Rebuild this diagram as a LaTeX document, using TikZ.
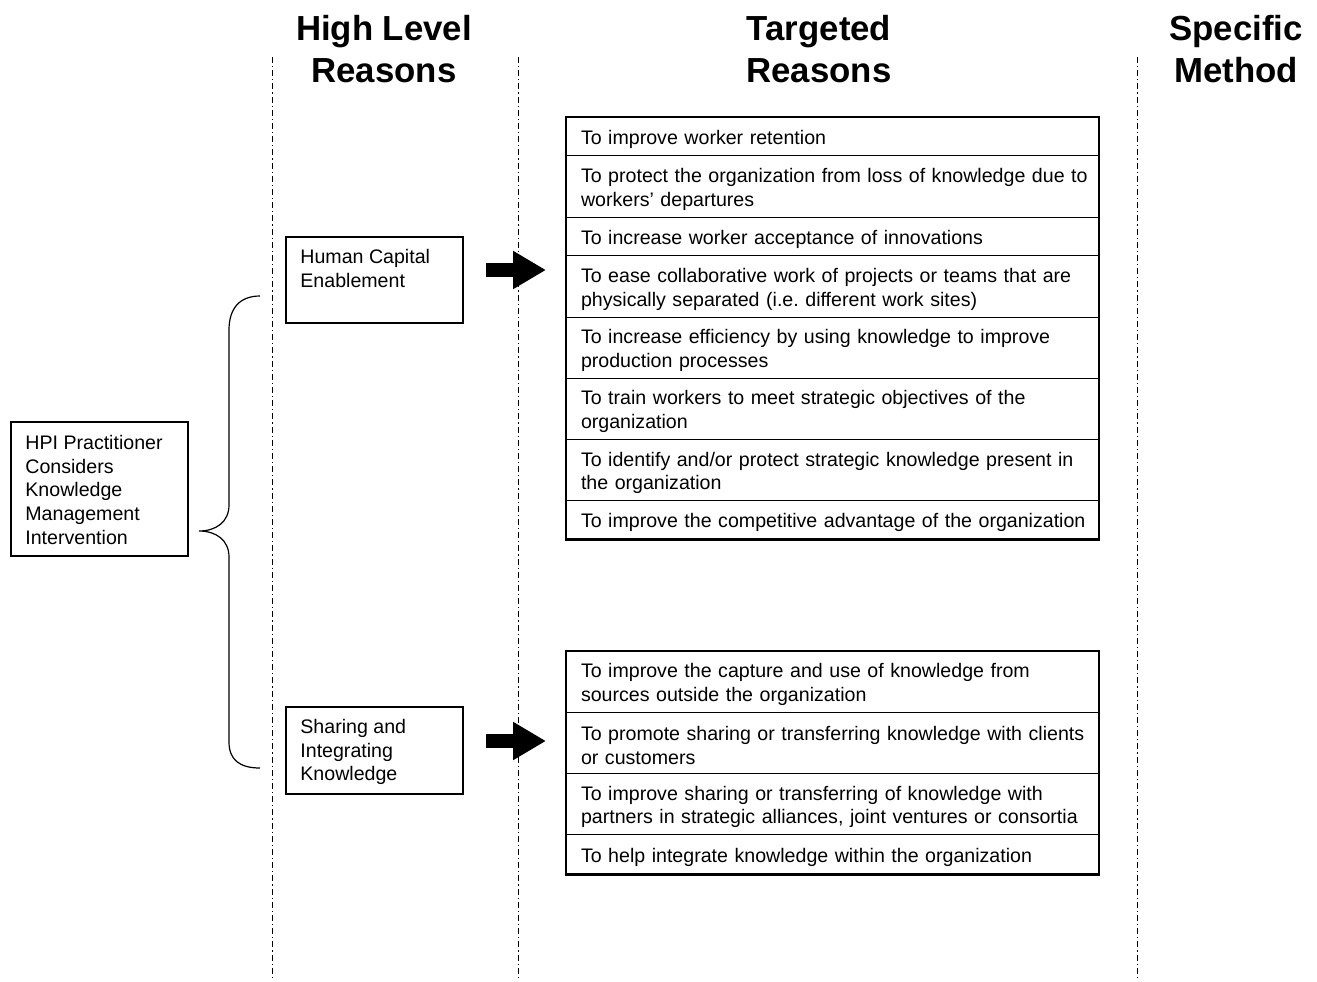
\documentclass[tikz,border=0pt]{standalone}
\usepackage{fontspec}
\setmainfont{Liberation Sans}
\usetikzlibrary{arrows.meta,positioning}

\tikzset{
  body/.style={font=\fontsize{9.8}{11.8}\selectfont\frenchspacing},
  heading/.style={font=\fontsize{17.4}{21}\selectfont\bfseries,align=center},
  guide/.style={line width=0.5pt,dash pattern=on 3pt off 1.5pt on 0.6pt off 1.5pt},
  lvlbox/.style={draw,line width=0.75pt,minimum width=88.5pt,inner sep=0pt,anchor=north west},
  lvltext/.style={body,align=left,inner sep=0pt,anchor=north west},
  reason/.style={body,draw,line width=0.5pt,text width=251.5pt,align=left,inner xsep=7.5pt,inner ysep=0pt,outer sep=0pt,minimum height=19.4pt,
    execute at begin node={\rightskip=0pt minus 20pt\hyphenpenalty=10000\rule{0pt}{10pt}}},
  reasontwo/.style={reason,minimum height=30.6pt},
  tableframe/.style={line width=1.25pt},
  bigarrow/.style={line width=7pt,-{Triangle[length=16.5pt,width=18pt]}}
}

\begin{document}
\begin{tikzpicture}[x=0.5pt,y=-0.5pt]
    \useasboundingbox (0,0) rectangle (1317,981);
    % column guides
    \draw[guide] (272,57)--(272,981);
    \draw[guide] (518,57)--(518,981);
    \draw[guide] (1137,57)--(1137,981);
    \node[heading] (hlhead) at (384,49) {High Level\\Reasons};
    \node[heading] (tghead) at (819,49) {Targeted\\Reasons};
    \node[heading] (smhead) at (1236,49) {Specific\\Method};
    % starting point and brace
    \node[lvlbox,minimum height=67pt] (hpi) at (10,421) {};
    \node[lvltext] (hpitext) at (25,435) {HPI Practitioner\\Considers\\Knowledge\\Management\\Intervention};
    \draw[line width=0.6pt] (260,296) .. controls (240,296) and (229,308) .. (229,330) -- (229,505) .. controls (229,522) and (216,531) .. (199,531) .. controls (216,531) and (229,540) .. (229,557) -- (229,742) .. controls (229,760) and (240,768) .. (260,768);
    % high level reasons
    \node[lvlbox,minimum height=43pt] (hce) at (285,236) {};
    \node[lvltext] (hcetext) at (300,249) {Human Capital\\Enablement};
    \node[lvlbox,minimum height=43.5pt] (sik) at (285,706) {};
    \node[lvltext] (siktext) at (300,719) {Sharing and\\Integrating\\Knowledge};
    \coordinate (hcefrom) at (486,270);
    \coordinate (hceto) at (546,270);
    \coordinate (sikfrom) at (486,741);
    \coordinate (sikto) at (546,741);
    \draw[bigarrow] (hcefrom)--(hceto);
    \draw[bigarrow] (sikfrom)--(sikto);
    % targeted reasons, first table
    \node[reason,anchor=north west] (ta) at (566,117) {To improve worker retention};
    \node[reasontwo,below=0pt of ta] (tb) {To protect the organization from loss of knowledge due to\\workers' departures};
    \node[reason,below=0pt of tb] (tc) {To increase worker acceptance of innovations};
    \node[reasontwo,below=0pt of tc] (td) {To ease collaborative work of projects or teams that are\\physically separated (i.e. different work sites)};
    \node[reasontwo,below=0pt of td] (te) {To increase efficiency by using knowledge to improve\\production processes};
    \node[reasontwo,below=0pt of te] (tf) {To train workers to meet strategic objectives of the\\organization};
    \node[reasontwo,below=0pt of tf] (tg) {To identify and/or protect strategic knowledge present in\\the organization};
    \node[reason,below=0pt of tg] (th) {To improve the competitive advantage of the organization};
    \draw[tableframe] (ta.north west) rectangle (th.south east);
    % targeted reasons, second table
    \node[reasontwo,anchor=north west] (sa) at (566,651) {To improve the capture and use of knowledge from\\sources outside the organization};
    \node[reasontwo,below=0pt of sa] (sb) {To promote sharing or transferring knowledge with clients\\or customers};
    \node[reasontwo,below=0pt of sb] (sc) {To improve sharing or transferring of knowledge with\\partners in strategic alliances, joint ventures or consortia};
    \node[reason,minimum height=20pt,below=0pt of sc] (sd) {To help integrate knowledge within the organization};
    \draw[tableframe] (sa.north west) rectangle (sd.south east);
  \end{tikzpicture}
\end{document}
